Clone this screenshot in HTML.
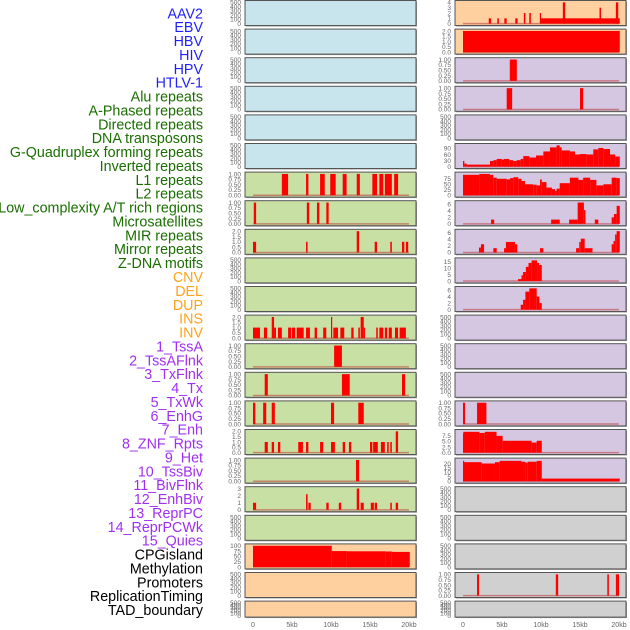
<!DOCTYPE html>
<html><head><meta charset="utf-8">
<style>
html,body{margin:0;padding:0;background:#fff;}
svg{display:block;font-family:"Liberation Sans",sans-serif;}
</style></head>
<body>
<svg id="chart" width="630" height="630" viewBox="0 0 630 630"></svg>
<script>
// ----- labels -----
const labelNames = ["AAV2","EBV","HBV","HIV","HPV","HTLV-1","Alu repeats","A-Phased repeats","Directed repeats","DNA transposons","G-Quadruplex forming repeats","Inverted repeats","L1 repeats","L2 repeats","Low_complexity A/T rich regions","Microsatellites","MIR repeats","Mirror repeats","Z-DNA motifs","CNV","DEL","DUP","INS","INV","1_TssA","2_TssAFlnk","3_TxFlnk","4_Tx","5_TxWk","6_EnhG","7_Enh","8_ZNF_Rpts","9_Het","10_TssBiv","11_BivFlnk","12_EnhBiv","13_ReprPC","14_ReprPCWk","15_Quies","CPGisland","Methylation","Promoters","ReplicationTiming","TAD_boundary"];
const labelGroups = [0,0,0,0,0,0,1,1,1,1,1,1,1,1,1,1,1,1,1,2,2,2,2,2,3,3,3,3,3,3,3,3,3,3,3,3,3,3,3,4,4,4,4,4];
const groupColors = ["#1f1fff","#1a6e00","#ffa31a","#a030f0","#000000"];

// ----- x axis -----
const xTickValues = [0,5,10,15,20];
const xTickLabels = ["0","5kb","10kb","15kb","20kb"];

// ----- left column tracks: [start kb, end kb, value] -----
const segL6 = [[3.7,4.5,1],[6.8,7.1,1],[8.6,9.2,1],[9.9,10.6,1],[11.5,12.0,1],[13.3,13.7,1],[15.3,15.9,1],[16.2,16.7,1],[16.9,17.8,1],[18.1,18.6,1]];
const segL7 = [[0.1,0.4,1],[6.9,7.2,1],[8.2,8.5,1],[9.4,9.7,1]];
const segL8 = [[0,0.4,1],[6.8,7.0,1],[13.3,13.6,2],[15.6,15.9,1],[17.6,17.8,1],[19.1,19.4,1],[19.6,19.9,1]];
const segL11 = [[0,0.9,1],[1.4,1.8,1],[2.4,2.7,2],[2.7,2.95,1],[3.2,3.7,1],[4.5,4.9,1],[5.0,5.4,1],[5.6,6.5,1],[6.8,7.3,1],[7.9,8.2,1],[9.0,9.4,1],[10.0,10.15,2],[10.3,10.9,1],[11.2,11.7,1],[12.6,12.9,1],[13.5,13.7,1],[13.8,14.2,2],[14.2,14.35,1],[15.8,16.0,1],[16.2,16.7,1],[16.9,17.2,1],[17.4,17.8,1],[18.2,18.6,1],[18.8,19.6,1]];
const segL12 = [[10.4,11.4,1]];
const segL13 = [[1.5,1.9,1],[11.4,12.4,1],[19.1,19.5,1]];
const segL14 = [[0,0.3,1],[1.3,1.7,1],[2.4,2.8,1],[10.0,10.4,1],[13.5,14.2,1]];
const segL15 = [[1.5,1.9,1],[2.4,2.7,1],[3.2,3.5,1],[5.8,6.4,1],[6.8,7.1,1],[8.6,9.0,1],[10.0,10.5,1],[11.5,11.8,1],[12.3,12.6,1],[15.0,15.3,1],[15.4,16.0,1],[16.4,16.9,1],[17.2,17.4,1],[17.6,17.8,1],[18.3,18.6,2]];
const segL16 = [[13.2,13.6,1]];
const segL17 = [[0,0.4,1],[6.8,7.0,2.2],[7.1,7.4,1],[9.4,9.7,1],[11.0,11.3,1],[13.3,13.6,3],[13.8,14.2,1],[15.1,15.5,1],[15.6,15.9,1],[17.6,17.8,1],[18.3,18.6,1]];
const segL19 = [[0,10.1,100],[10.1,12,75],[12,17,74],[17,17.8,73],[17.8,20.1,71]];

// ----- right column tracks -----
const segR0 = [[3.3,3.6,1],[4.4,4.6,1],[5.3,5.6,1],[6.7,7.0,1],[7.8,8.0,2],[8.5,8.7,2],[9.85,10.0,2],[10.0,20.1,1],[12.8,13.1,4],[17.5,17.7,3],[19.6,19.9,4]];
const segR1 = [[0,20.1,2]];
const segR2 = [[6.0,6.9,1]];
const segR3 = [[5.6,6.3,1],[15.0,15.4,1]];
const segR5 = [[0,0.17,28],[0.17,0.47,15],[0.47,3.46,10],[3.46,3.89,28],[3.89,4.32,32],[4.32,4.96,38],[4.96,5.26,35],[5.26,5.94,38],[5.94,6.45,32],[6.45,6.88,28],[6.88,7.39,32],[7.39,7.73,38],[7.73,8.5,52],[8.5,9.36,45],[9.36,10.3,55],[10.3,11.15,75],[11.15,12.0,95],[12.0,12.4,105],[12.4,12.65,95],[12.65,13.7,80],[13.7,14.36,75],[14.36,15.0,60],[15.0,15.85,62],[15.85,16.7,60],[16.7,17.35,85],[17.35,17.99,92],[17.99,18.85,87],[18.85,19.5,60],[19.5,20.1,50]];
const segR6 = [[0,2.1,93],[2.1,3.46,97],[3.46,3.89,93],[3.89,4.32,80],[4.32,5.6,75],[5.6,6.03,72],[6.03,6.45,78],[6.45,7.09,82],[7.09,7.5,75],[7.5,7.95,65],[7.95,9.0,50],[9.0,9.45,48],[9.45,9.87,45],[9.87,10.1,72],[10.1,10.7,60],[10.7,11.4,35],[11.4,11.8,28],[11.8,12.0,20],[12.0,12.4,30],[12.4,13.7,55],[13.7,14.8,80],[14.8,15.4,70],[15.4,16.3,80],[16.3,17.1,70],[17.1,17.99,45],[17.99,19.06,50],[19.06,19.7,80],[19.7,20.1,78]];
const segR7 = [[3.6,4.0,1.3],[11.3,12.4,1.3],[13.6,14.7,1.3],[14.7,15.5,6.5],[15.5,15.7,4.2],[16.9,17.35,1.3],[19.06,19.35,2],[19.35,19.7,3],[19.7,20.1,5.5]];
const segR8 = [[2.05,2.3,1.5],[2.3,2.7,2.5],[3.89,4.32,1.3],[5.26,5.5,1.3],[5.5,6.66,3.2],[6.66,6.96,2.5],[9.87,10.3,1.3],[14.5,14.9,1.3],[14.9,15.1,3.2],[15.1,15.6,4.2],[15.6,16.6,1.3],[19.06,19.3,2.5],[19.3,19.5,3.5],[19.5,19.7,5.5],[19.7,20.1,6.5]];
const segR9 = [[7.05,7.5,1.5],[7.5,7.7,4.5],[7.7,8.06,7],[8.06,8.4,11],[8.4,8.8,14],[8.8,9.5,16],[9.5,9.75,14],[9.75,10.1,12.5]];
const segR10 = [[7.4,7.7,1.5],[7.7,8.0,3],[8.0,8.5,5.5],[8.5,9.45,6.5],[9.45,9.8,4],[9.8,10.1,2]];
const segR14 = [[0,0.26,1],[1.8,3.0,1]];
const segR15 = [[0,0.04,8.5],[0.04,2.1,9.3],[2.1,2.8,8.8],[2.8,4.3,9.3],[4.3,5.08,7.5],[5.08,8.8,5.3],[8.8,9.45,4.5],[9.45,10.1,5.3]];
const segR16 = [[0,0.04,23],[0.04,2.4,21.5],[2.4,4.1,20],[4.1,4.7,21.5],[4.7,7.5,23],[7.5,8.0,22],[8.0,8.3,21],[8.3,9.45,22],[9.45,10.1,23],[10.1,20.1,3]];
const segR20 = [[1.8,2.05,1],[11.9,12.2,1],[18.5,18.7,1],[19.6,20.0,1]];

// ----- axis tick sets -----
const ticksEmpty = ["0","100","200","300","400","500"];
const ticksOne = ["0.00","0.25","0.50","0.75","1.00"];
const ticksTwo = ["0.0","0.5","1.0","1.5","2.0"];

const C = {blue:"#c8e4ec",green:"#c8e0a4",peach:"#fecf9f",purple:"#d5c6e2",grey:"#d0d0d0"};
const E = null;
const leftTracks = [
 [E,500,[0,100,200,300,400,500],ticksEmpty,C.blue],
 [E,500,[0,100,200,300,400,500],ticksEmpty,C.blue],
 [E,500,[0,100,200,300,400,500],ticksEmpty,C.blue],
 [E,500,[0,100,200,300,400,500],ticksEmpty,C.blue],
 [E,500,[0,100,200,300,400,500],ticksEmpty,C.blue],
 [E,500,[0,100,200,300,400,500],ticksEmpty,C.blue],
 [segL6,1,[0,0.25,0.5,0.75,1],ticksOne,C.green],
 [segL7,1,[0,0.25,0.5,0.75,1],ticksOne,C.green],
 [segL8,2,[0,0.5,1,1.5,2],ticksTwo,C.green],
 [E,500,[0,100,200,300,400,500],ticksEmpty,C.green],
 [E,500,[0,100,200,300,400,500],ticksEmpty,C.green],
 [segL11,2,[0,0.5,1,1.5,2],ticksTwo,C.green],
 [segL12,1,[0,0.25,0.5,0.75,1],ticksOne,C.green],
 [segL13,1,[0,0.25,0.5,0.75,1],ticksOne,C.green],
 [segL14,1,[0,0.25,0.5,0.75,1],ticksOne,C.green],
 [segL15,2,[0,0.5,1,1.5,2],ticksTwo,C.green],
 [segL16,1,[0,0.25,0.5,0.75,1],ticksOne,C.green],
 [segL17,3,[0,1,2,3],["0","1","2","3"],C.green],
 [E,500,[0,100,200,300,400,500],ticksEmpty,C.green],
 [segL19,100,[0,25,50,75,100],["0","25","50","75","100"],C.peach],
 [E,500,[0,100,200,300,400,500],ticksEmpty,C.peach],
 [E,500,[0,100,200,300,400,500],ticksEmpty,C.peach]
];
const rightTracks = [
 [segR0,4,[0,1,2,3,4],["0","1","2","3","4"],C.peach],
 [segR1,2,[0,0.5,1,1.5,2],ticksTwo,C.peach],
 [segR2,1,[0,0.25,0.5,0.75,1],ticksOne,C.purple],
 [segR3,1,[0,0.25,0.5,0.75,1],ticksOne,C.purple],
 [E,500,[0,100,200,300,400,500],ticksEmpty,C.purple],
 [segR5,105,[0,30,60,90],["0","30","60","90"],C.purple],
 [segR6,97,[0,25,50,75],["0","25","50","75"],C.purple],
 [segR7,6.5,[0,2,4,6],["0","2","4","6"],C.purple],
 [segR8,6.5,[0,2,4,6],["0","2","4","6"],C.purple],
 [segR9,16.5,[0,5,10,15],["0","5","10","15"],C.purple],
 [segR10,6.5,[0,2,4,6],["0","2","4","6"],C.purple],
 [E,500,[0,100,200,300,400,500],ticksEmpty,C.purple],
 [E,500,[0,100,200,300,400,500],ticksEmpty,C.purple],
 [E,500,[0,100,200,300,400,500],ticksEmpty,C.purple],
 [segR14,1,[0,0.25,0.5,0.75,1],ticksOne,C.purple],
 [segR15,9.5,[0,2.5,5,7.5],["0.0","2.5","5.0","7.5"],C.purple],
 [segR16,24,[0,5,10,15,20],["0","5","10","15","20"],C.purple],
 [E,500,[0,100,200,300,400,500],ticksEmpty,C.grey],
 [E,500,[0,100,200,300,400,500],ticksEmpty,C.grey],
 [E,500,[0,100,200,300,400,500],ticksEmpty,C.grey],
 [segR20,1,[0,0.25,0.5,0.75,1],ticksOne,C.grey],
 [E,500,[0,100,200,300,400,500],ticksEmpty,C.grey]
];

const svg = document.getElementById('chart');
const NS = "http://www.w3.org/2000/svg";
function mk(tag, attrs, parent){
  const el = document.createElementNS(NS, tag);
  for (const k in attrs) el.setAttribute(k, attrs[k]);
  (parent||svg).appendChild(el);
  return el;
}

labelNames.forEach((name,i)=>{
  const t = mk('text',{x:203,y:14.5+i*13.88,'text-anchor':'end','dominant-baseline':'middle','font-size':14.3,fill:groupColors[labelGroups[i]]});
  
  
  t.textContent = name;
});

const colX = [245,455];
const panelW = 171;
function rowTop(i){ return 0.5 + i*28.6; }
function rowH(i){ return i===21 ? 16 : 25; }
function xScale(col, kb){ return colX[col] + 8 + kb*7.8; }

function drawPanel(col, i, tr){
  const [segs, M, tv, tl, fill] = tr;
  const top = rowTop(i), h = rowH(i);
  const g = mk('g',{});
  
  
  const x0 = colX[col];
  mk('rect',{x:x0+1,y:top+1,width:panelW,height:h,fill:'#999'},g);
  const bg = mk('rect',{x:x0,y:top,width:panelW,height:h,fill:fill,stroke:'#555','stroke-width':1},g);
  
  
  const lo = -0.04*M, hi = 1.04*M;
  const yS = v => top + h - 1 - (v-lo)/(hi-lo)*(h-2);
  tv.forEach((v,k)=>{
    const t = mk('text',{x:x0-4,y:yS(v)+2.3,'text-anchor':'end','font-size':6.5,fill:'#666'},g);
    
    
    t.textContent = tl[k];
  });
  if (segs){
    const base = mk('line',{x1:xScale(col,0),x2:xScale(col,20),y1:yS(0),y2:yS(0),stroke:'rgba(190,70,70,0.6)','stroke-width':1.5},g);
    
    
    segs.forEach(s=>{
      const xa = xScale(col,s[0]), xb = xScale(col,s[1]);
      const b = mk('rect',{x:xa,y:yS(s[2]),width:Math.max(1.2,xb-xa),height:yS(0)-yS(s[2]),fill:'#ff0000'},g);
      
      
    });
  }
}
leftTracks.forEach((tr,i)=>drawPanel(0,i,tr));
rightTracks.forEach((tr,i)=>drawPanel(1,i,tr));

[0,1].forEach(col=>{
  xTickValues.forEach((v,k)=>{
    const t = mk('text',{x:xScale(col,v),y:627,'text-anchor':'middle','font-size':7,fill:'#666'});
    
    
    t.textContent = xTickLabels[k];
  });
});
</script>
</body></html>
